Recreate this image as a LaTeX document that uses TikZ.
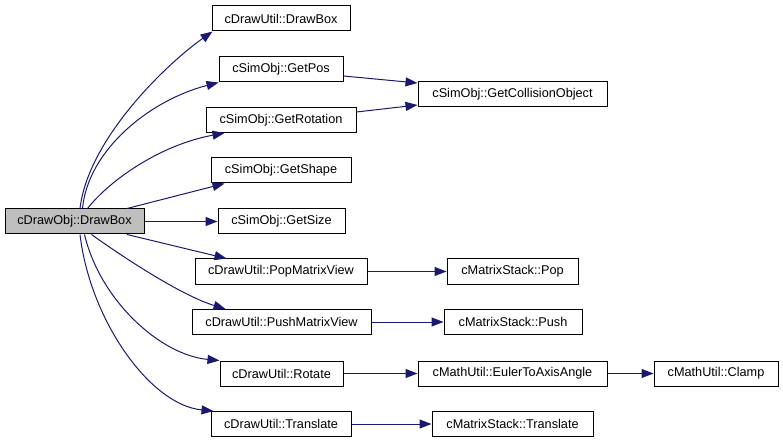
\documentclass[tikz,border=0pt]{standalone}
\usepackage{fontspec}
\setmainfont{Liberation Sans}
\usepackage{tikz}
\usetikzlibrary{arrows.meta}
\definecolor{edgeblue}{HTML}{191970}
\definecolor{curgray}{HTML}{BFBFBF}
\tikzset{
    fn/.style={draw=black, line width=1pt, minimum height=25pt, inner sep=0pt,
        font=\fontsize{12.7}{15}\selectfont},
    call/.style={draw=edgeblue, line width=1pt,
        -{Triangle[length=12pt,width=9pt]}}
}

\begin{document}
\begin{tikzpicture}[x=1pt,y=-1pt]
        \useasboundingbox (0,0) rectangle (783,443);

        \node[fn, fill=curgray, minimum width=139pt] (drawobj) at (74.5,221.5) {cDrawObj::DrawBox};

        \node[fn, minimum width=138pt] (utildraw) at (281,18.5) {cDrawUtil::DrawBox};
        \node[fn, minimum width=124pt] (getpos) at (281,69.5) {cSimObj::GetPos};
        \node[fn, minimum width=150pt] (getrot) at (281,120) {cSimObj::GetRotation};
        \node[fn, minimum width=140pt] (getshape) at (281,170.5) {cSimObj::GetShape};
        \node[fn, minimum width=127pt] (getsize) at (281.5,221.5) {cSimObj::GetSize};
        \node[fn, minimum width=172pt] (popmv) at (281,271.5) {cDrawUtil::PopMatrixView};
        \node[fn, minimum width=179pt] (pushmv) at (281.5,322) {cDrawUtil::PushMatrixView};
        \node[fn, minimum width=123pt] (rotate) at (281.5,373.5) {cDrawUtil::Rotate};
        \node[fn, minimum width=140pt] (translate) at (281,424) {cDrawUtil::Translate};

        \node[fn, minimum width=189pt] (collision) at (512.5,94.5) {cSimObj::GetCollisionObject};
        \node[fn, minimum width=131pt] (pop) at (512.5,271.5) {cMatrixStack::Pop};
        \node[fn, minimum width=138pt] (push) at (513,322) {cMatrixStack::Push};
        \node[fn, minimum width=189pt] (euler) at (512.5,373.5) {cMathUtil::EulerToAxisAngle};
        \node[fn, minimum width=161pt] (mtranslate) at (512.5,424) {cMatrixStack::Translate};

        \node[fn, minimum width=124pt] (clamp) at (716,373.5) {cMathUtil::Clamp};

        \draw[call] ([xshift=5.5pt]drawobj.north) .. controls (88,140) and (165,65) .. ([xshift=1pt]utildraw.south west);
        \draw[call] ([xshift=8pt]drawobj.north) .. controls (88,150) and (150,100) .. (getpos.south west);
        \draw[call] ([xshift=13pt]drawobj.north) .. controls (110,180) and (160,145) .. ([xshift=19pt]getrot.south west);
        \draw[call] ([xshift=52.5pt]drawobj.north) -- ([xshift=14pt]getshape.south west);
        \draw[call] (drawobj.east) -- (getsize.west);
        \draw[call] ([xshift=52.5pt]drawobj.south) -- ([xshift=32pt]popmv.north west);
        \draw[call] ([xshift=17pt]drawobj.south) .. controls (120,255) and (180,295) .. ([xshift=34pt]pushmv.north west);
        \draw[call] ([xshift=10pt]drawobj.south) .. controls (100,300) and (160,355) .. (rotate.north west);
        \draw[call] ([xshift=5.5pt]drawobj.south) .. controls (90,320) and (150,405) .. ([xshift=3pt]translate.north west);

        \draw[call] ([yshift=-6.5pt]getpos.east) -- ([yshift=11.5pt]collision.west);
        \draw[call] ([yshift=8pt]getrot.east) -- ([yshift=-10.5pt]collision.west);
        \draw[call] (popmv.east) -- (pop.west);
        \draw[call] (pushmv.east) -- (push.west);
        \draw[call] (rotate.east) -- (euler.west);
        \draw[call] (euler.east) -- (clamp.west);
        \draw[call] (translate.east) -- (mtranslate.west);

    \end{tikzpicture}
\end{document}
